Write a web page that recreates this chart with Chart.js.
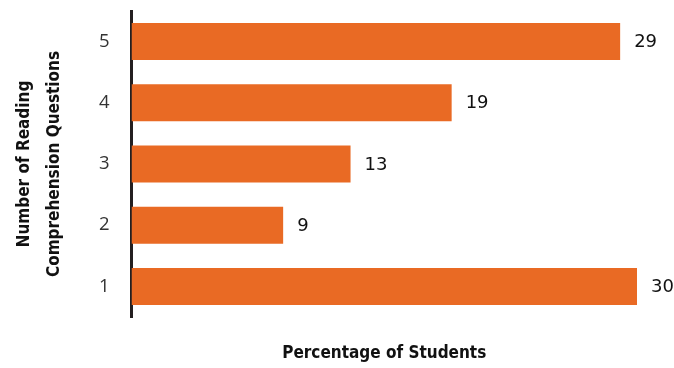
<!DOCTYPE html>
<html>
<head>
<meta charset="utf-8">
<script src="https://cdn.jsdelivr.net/npm/chart.js@4"></script>
<style>
  html, body { margin: 0; padding: 0; background: #fff; }
  #wrap { width: 674px; height: 368px; }
</style>
</head>
<body>
<div id="wrap"><canvas id="questionsChart" width="674" height="368"></canvas></div>
<script>
// Reading comprehension questions answered vs share of students
const questionCounts = ['5', '4', '3', '2', '1'];
const studentPercents = [29, 19, 13, 9, 30];
const barColor = '#E96A24';

const narrowBold = '"DejaVu Sans Condensed", "DejaVu Sans", sans-serif';

// Draw each value just right of its bar
const valueLabels = {
    id: 'valueLabels',
    afterDatasetsDraw(chart) {
        const ctx = chart.ctx;
        const meta = chart.getDatasetMeta(0);
        ctx.save();
        ctx.font = '18px "DejaVu Sans"';
        ctx.fillStyle = '#111';
        ctx.textAlign = 'left';
        ctx.textBaseline = 'middle';
        meta.data.forEach((bar, i) => {
            ctx.fillText(String(studentPercents[i]), bar.x + 14, bar.y + 1);
        });
        ctx.restore();
    }
};

function initChart() {
    const ctx = document.getElementById('questionsChart').getContext('2d');
    new Chart(ctx, {
        type: 'bar',
        data: {
            labels: questionCounts,
            datasets: [{
                data: studentPercents,
                backgroundColor: barColor,
                borderWidth: 0,
                barPercentage: 1,
                categoryPercentage: 0.605
            }]
        },
        options: {
            indexAxis: 'y',
            responsive: false,
            animation: false,
            layout: { padding: { top: 11, right: 37, bottom: 0, left: 0 } },
            plugins: {
                legend: { display: false },
                tooltip: { enabled: false }
            },
            scales: {
                x: {
                    min: 0,
                    max: 30,
                    grid: { display: false, drawTicks: false },
                    border: { display: false },
                    ticks: { display: false },
                    title: {
                        display: true,
                        text: 'Percentage of Students',
                        color: '#111',
                        font: { family: narrowBold, size: 17, weight: 'bold', lineHeight: 1.2 },
                        padding: { top: 26.6, bottom: 4 }
                    }
                },
                y: {
                    grid: { display: false, drawTicks: false },
                    border: { display: true, color: '#231f20', width: 3 },
                    ticks: {
                        color: '#333',
                        padding: 22,
                        font: { family: '"Open Sans", sans-serif', size: 18.5 }
                    },
                    title: {
                        display: true,
                        text: ['Number of Reading', 'Comprehension Questions'],
                        color: '#111',
                        font: { family: narrowBold, size: 17, weight: 'bold', lineHeight: 1.765 },
                        padding: { top: 10, bottom: 10 }
                    },
                    // fixed axis width, and no extra room above/below the first and last labels
                    afterFit(scale) {
                        scale.width = 131.5;
                        scale.paddingTop = 0;
                        scale.paddingBottom = 0;
                    }
                }
            }
        },
        plugins: [valueLabels]
    });
}

window.onload = initChart;
</script>
</body>
</html>
